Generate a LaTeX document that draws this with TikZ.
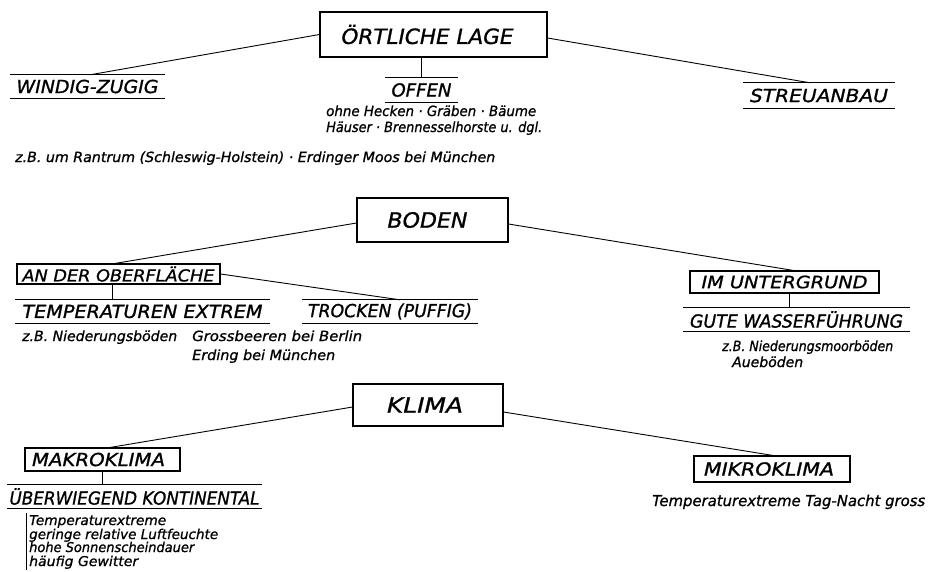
\documentclass[tikz,border=0pt]{standalone}
\usepackage{fontspec}
\setmainfont{DejaVu Sans}[ItalicFeatures={FakeBold=1}]
\usepackage{graphicx}
\newcommand{\fitt}[3]{{\fontsize{#1}{#1}\selectfont\itshape\resizebox{#2pt}{\height}{#3}}}
\tikzset{
  mbox/.style={draw, line width=1.1pt, inner sep=0pt},
  ulab/.style={inner sep=0pt},
  txt/.style={inner sep=0pt, anchor=base west},
  conn/.style={line width=0.9pt},
  uline/.style={line width=1.2pt},
}
\begin{document}
\begin{tikzpicture}[x=1pt,y=-1pt]
\useasboundingbox (0,0) rectangle (931,571);
% ---------- Oertliche Lage
\node[mbox, minimum width=227pt, minimum height=45pt] (olage) at (433.5,34.5) {\fitt{21}{172}{ÖRTLICHE LAGE}\hspace*{12pt}};
\node[ulab, minimum width=155pt, minimum height=23pt] (windig) at (87.5,86.5) {\fitt{18}{142}{WINDIG-ZUGIG}};
\node[ulab, minimum width=73pt, minimum height=24pt] (offen) at (421.5,90) {\fitt{18}{60}{OFFEN}};
\node[ulab, minimum width=152pt, minimum height=25pt] (streu) at (819,95.5) {\fitt{18}{138}{STREUANBAU}};
\node[txt] (of1) at (326,116) {\fitt{14}{210}{ohne Hecken · Gräben · Bäume}};
\node[txt] (of2) at (326,132) {\fitt{14}{216}{Häuser · Brennesselhorste u. dgl.}};
\node[txt] (zb1) at (15,162) {\fitt{14}{480}{z.B. um Rantrum (Schleswig-Holstein) · Erdinger Moos bei München}};
% ---------- Boden
\node[mbox, minimum width=151pt, minimum height=44pt] (boden) at (432.5,220) {\fitt{21}{80}{BODEN}\hspace*{10pt}};
\node[mbox, minimum width=203pt, minimum height=20pt] (oberf) at (118.5,274) {\fitt{16.5}{192}{AN DER OBERFLÄCHE}};
\node[mbox, minimum width=189pt, minimum height=22pt] (imu) at (784.5,282) {\fitt{17}{166}{IM UNTERGRUND}};
\node[ulab, minimum width=255pt, minimum height=23pt] (temp) at (142.5,311.5) {\fitt{18}{240}{TEMPERATUREN EXTREM}};
\node[ulab, minimum width=176pt, minimum height=23pt] (trocken) at (390,311.5) {\fitt{18}{164}{TROCKEN (PUFFIG)}};
\node[ulab, minimum width=227pt, minimum height=23pt] (gute) at (796.5,319.5) {\fitt{18}{213}{GUTE WASSERFÜHRUNG}};
\node[txt] (nb) at (22,341) {\fitt{14}{155}{z.B. Niederungsböden}};
\node[txt] (gb) at (192,341) {\fitt{14}{170}{Grossbeeren bei Berlin}};
\node[txt] (eb) at (192,360) {\fitt{14}{143}{Erding bei München}};
\node[txt] (nm) at (722,351) {\fitt{14}{171}{z.B. Niederungsmoorböden}};
\node[txt] (ab) at (732,367) {\fitt{14}{71}{Aueböden}};
% ---------- Klima
\node[mbox, minimum width=150pt, minimum height=42pt] (klima) at (428,405) {\fitt{21}{76}{KLIMA}\hspace*{6pt}};
\node[mbox, minimum width=155pt, minimum height=23pt] (makro) at (102.5,459.5) {\fitt{18}{133}{MAKROKLIMA}\hspace*{8pt}};
\node[mbox, minimum width=156pt, minimum height=26pt] (mikro) at (772,469) {\fitt{18}{130}{MIKROKLIMA}\hspace*{6pt}};
\node[ulab, minimum width=255pt, minimum height=23pt] (ueber) at (134.5,496.5) {\fitt{18}{250}{ÜBERWIEGEND KONTINENTAL}};
\node[txt] (l1) at (29,525) {\fitt{13.5}{137}{Temperaturextreme}};
\node[txt] (l2) at (29,539) {\fitt{13.5}{189}{geringe relative Luftfeuchte}};
\node[txt] (l3) at (29,552) {\fitt{13.5}{165}{hohe Sonnenscheindauer}};
\node[txt] (l4) at (29,566) {\fitt{13.5}{109}{häufig Gewitter}};
\node[txt] (tn) at (652,506) {\fitt{15}{273}{Temperaturextreme Tag-Nacht gross}};
\coordinate (bartop) at (26,513);
\coordinate (barbot) at (26,570);
\draw[conn] (bartop) -- (barbot);
% ---------- underlines
\foreach \n in {windig,offen,streu,temp,trocken,gute,ueber}{
  \draw[uline] (\n.north west) -- (\n.north east) (\n.south west) -- (\n.south east);
}
% ---------- connectors
\draw[conn] (olage.west) -- ([xshift=2.5pt]windig.north);
\draw[conn] ([yshift=-3.5pt]olage.east) -- ([xshift=-9pt]streu.north);
\draw[conn] (offen.north |- olage.south) -- (offen.north);
\draw[conn] ([yshift=-3pt]boden.west) -- ([xshift=-3.5pt]oberf.north);
\draw[conn] ([yshift=-4pt]boden.east) -- ([xshift=9pt]imu.north);
\draw[conn] (oberf.east) -- ([xshift=10pt]trocken.north);
\path ([xshift=-6.5pt]oberf.south) coordinate (os);
\draw[conn] (os) -- (os |- temp.north);
\path ([xshift=4.5pt]imu.south) coordinate (is);
\draw[conn] (is) -- (is |- gute.north);
\draw[conn] ([yshift=-2pt]klima.west) -- ([xshift=7.5pt]makro.north);
\draw[conn] ([yshift=-7pt]klima.east) -- ([xshift=1pt]mikro.north);
\draw[conn] (makro.south) -- (makro.south |- ueber.north);
\end{tikzpicture}
\end{document}
